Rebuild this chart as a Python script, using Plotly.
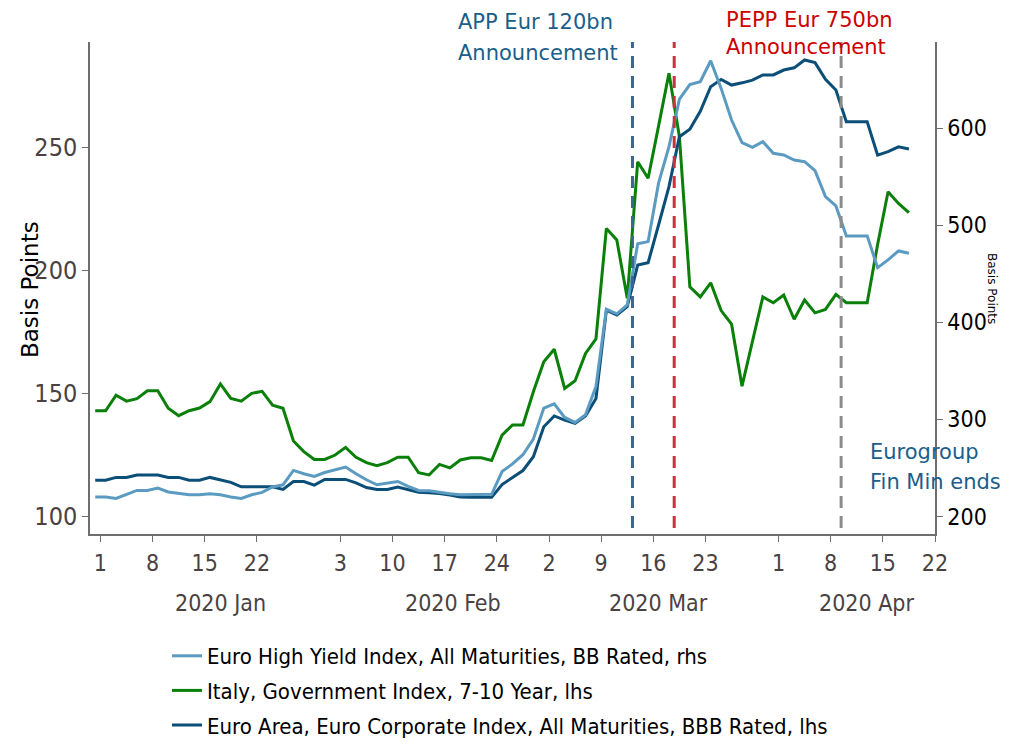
import plotly.graph_objects as go
import pandas as pd

# Business days Dec 31 2019 .. Apr 17 2020 (plotted at midday)
dates = pd.bdate_range("2019-12-31", "2020-04-17")
x_dates = [d.strftime("%Y-%m-%d") + " 12:00" for d in dates]

italy = [142.8, 142.8, 149.1, 146.7, 147.7, 150.9, 150.9, 143.8, 140.8, 142.8,
         143.9, 146.5, 153.7, 147.8, 146.7, 149.9, 150.7, 145.1, 143.8, 130.5,
         126.2, 123.0, 123.0, 124.8, 127.9, 123.9, 121.7, 120.5, 121.7, 123.9,
         123.9, 117.6, 116.7, 121.0, 119.6, 122.8, 123.7, 123.7, 122.6, 132.9,
         137.0, 137.0, 150.5, 162.7, 167.8, 151.9, 155.0, 166.1, 172.0, 216.9,
         212.2, 188.5, 244.0, 237.3, 258.5, 280.0, 254.2, 193.2, 189.1, 194.8,
         183.5, 178.0, 152.8, 170.9, 189.1, 186.7, 189.8, 180.0, 187.8, 182.6,
         184.0, 190.1, 186.7, 186.7, 186.7, 210.4, 231.8, 227.1, 223.3]

bbb = [114.6, 114.6, 115.7, 115.7, 116.7, 116.7, 116.7, 115.7, 115.7, 114.6,
       114.6, 115.7, 114.6, 113.7, 111.9, 111.9, 111.9, 111.9, 110.8, 114.0,
       114.0, 112.6, 114.9, 114.9, 114.9, 113.5, 111.6, 110.8, 110.8, 111.8,
       110.6, 109.7, 109.5, 109.2, 108.5, 107.7, 107.6, 107.6, 107.6, 112.8,
       115.6, 118.5, 124.1, 136.3, 140.7, 139.0, 137.7, 140.7, 147.8, 183.7,
       181.7, 185.1, 202.0, 203.0, 218.3, 233.9, 254.2, 257.2, 264.5, 274.5,
       277.5, 275.2, 276.1, 277.2, 279.3, 279.3, 281.3, 282.2, 285.4, 284.3,
       277.5, 273.2, 260.3, 260.3, 260.3, 246.7, 248.1, 250.1, 249.2]

hy_bb = [220.0, 220.0, 218.6, 223.0, 226.8, 226.8, 229.2, 225.2, 223.4, 222.3,
         222.3, 223.4, 222.3, 220.0, 218.6, 222.3, 224.8, 230.3, 232.6, 247.4,
         244.0, 241.2, 245.3, 248.1, 250.9, 244.0, 237.8, 232.6, 234.4, 236.0,
         230.9, 226.8, 226.5, 224.8, 223.4, 222.3, 222.3, 222.3, 222.8, 246.3,
         254.1, 263.6, 279.7, 311.6, 316.1, 302.0, 296.9, 304.7, 333.9, 413.6,
         408.8, 418.0, 480.9, 483.2, 543.4, 581.1, 630.0, 645.0, 647.9, 669.6,
         641.1, 608.5, 585.2, 580.4, 586.2, 574.2, 572.5, 567.3, 565.6, 556.4,
         529.6, 520.0, 489.1, 489.1, 489.1, 456.4, 464.4, 473.6, 471.3]

tick_dates = ["2020-01-01", "2020-01-08", "2020-01-15", "2020-01-22",
              "2020-02-03", "2020-02-10", "2020-02-17", "2020-02-24",
              "2020-03-02", "2020-03-09", "2020-03-16", "2020-03-23",
              "2020-04-01", "2020-04-08", "2020-04-15", "2020-04-22"]
tick_text = ["1", "8", "15", "22", "3", "10", "17", "24",
             "2", "9", "16", "23", "1", "8", "15", "22"]

month_labels = ["2020 Jan", "2020 Feb", "2020 Mar", "2020 Apr"]
month_pos = ["2020-01-16 12:00", "2020-02-17 18:00", "2020-03-16 12:00", "2020-04-13 12:00"]

event_dates = ["2020-03-12", "2020-03-18", "2020-04-09"]
event_colors = ["#3d6593", "#c8323c", "#8c8c8c"]

C_LIGHT = "#5b9bc1"
C_GREEN = "#0a800a"
C_DARK = "#0b4e78"
C_TEXT_BLUE = "#1b5e8a"
C_TEXT_RED = "#cc0000"

NARROW = "DejaVu Sans Condensed, DejaVu Sans, sans-serif"
SANS = "DejaVu Sans, Verdana, sans-serif"

# page has an 8px body margin: work in page pixels, convert to figure space
OFF = 8
W, H = 1000, 732
PL, PT, PR, PB = 90, 42, 935, 534          # plot box in page pixels
L, T = PL - OFF, PT - OFF
R, B = W - (PR - OFF), H - (PB - OFF)
pw, ph = PR - PL, PB - PT


def px(xp):
    return (xp - PL) / pw


def py(yp):
    return (PB - yp) / ph


fig = go.Figure()
fig.add_trace(go.Scatter(x=x_dates, y=hy_bb, mode="lines", yaxis="y2", legendgroup="a",
                         name="Euro High Yield Index, All Maturities, BB Rated, rhs",
                         line=dict(color=C_LIGHT, width=3)))
fig.add_trace(go.Scatter(x=x_dates, y=italy, mode="lines", legendgroup="b",
                         name="Italy, Government Index, 7-10 Year, lhs",
                         line=dict(color=C_GREEN, width=3)))
fig.add_trace(go.Scatter(x=x_dates, y=bbb, mode="lines", legendgroup="c",
                         name="Euro Area, Euro Corporate Index, All Maturities, BBB Rated, lhs",
                         line=dict(color=C_DARK, width=3)))

for d, c in zip(event_dates, event_colors):
    fig.add_shape(type="line", xref="x", yref="paper", x0=d, x1=d, y0=0.012, y1=1.0,
                  line=dict(color=c, width=3, dash="12px,8px"))

ann = []
for lbl, pos in zip(month_labels, month_pos):
    ann.append(dict(x=pos, y=py(603), xref="x", yref="paper", text=lbl, showarrow=False,
                    font=dict(family=NARROW, size=23, color="#4a4242"),
                    xanchor="center", yanchor="middle"))

texts = [
    ("APP Eur 120bn", 456, 22, C_TEXT_BLUE),
    ("Announcement", 456, 53, C_TEXT_BLUE),
    ("PEPP Eur 750bn", 724, 20, C_TEXT_RED),
    ("Announcement", 724, 47, C_TEXT_RED),
    ("Eurogroup", 868, 452, C_TEXT_BLUE),
    ("Fin Min ends", 868, 482, C_TEXT_BLUE),
]
for t, xp, yp, c in texts:
    ann.append(dict(x=px(xp), y=py(yp), xref="paper", yref="paper",
                    text=t, showarrow=False, xanchor="left", yanchor="middle",
                    font=dict(family=SANS, size=21, color=c)))

ann.append(dict(x=px(30), y=py(290), xref="paper", yref="paper",
                text="Basis Points", textangle=-90, showarrow=False,
                font=dict(family=SANS, size=23, color="#000000"),
                xanchor="center", yanchor="middle"))
ann.append(dict(x=px(992), y=py(288), xref="paper", yref="paper",
                text="Basis Points", textangle=90, showarrow=False,
                font=dict(family=SANS, size=12, color="#000000"),
                xanchor="center", yanchor="middle"))

fig.update_layout(
    width=W, height=H,
    margin=dict(l=L, r=R, t=T, b=B, autoexpand=False),
    paper_bgcolor="white", plot_bgcolor="white",
    showlegend=True,
    legend=dict(x=px(167), y=py(635), xanchor="left", yanchor="top",
                font=dict(family=NARROW, size=22, color="#000000"),
                itemwidth=30, tracegroupgap=3, bgcolor="rgba(0,0,0,0)",
                borderwidth=0),
    annotations=ann,
    xaxis=dict(type="date", range=["2019-12-31", "2020-04-22"],
               rangebreaks=[dict(bounds=["sat", "mon"])],
               tickmode="array", tickvals=tick_dates, ticktext=tick_text,
               ticks="outside", ticklen=6, tickcolor="#6e6e6e", tickwidth=1,
               showline=True, linecolor="#6e6e6e", linewidth=1.5,
               showgrid=False, zeroline=False, ticklabelstandoff=2,
               tickfont=dict(family=NARROW, size=23, color="#4a4242")),
    yaxis=dict(range=[92.7, 292.7], tickvals=[100, 150, 200, 250],
               ticks="outside", ticklen=6, tickcolor="#6e6e6e",
               showline=True, linecolor="#6e6e6e", linewidth=1.5,
               showgrid=False, zeroline=False,
               tickfont=dict(family=NARROW, size=25, color="#4a4242")),
    yaxis2=dict(range=[181.9, 688.9], tickvals=[200, 300, 400, 500, 600], overlaying="y",
                side="right", ticks="outside", ticklen=6, tickcolor="#6e6e6e",
                showline=True, linecolor="#6e6e6e", linewidth=1.5,
                showgrid=False, zeroline=False,
                tickfont=dict(family=NARROW, size=23, color="#000000")),
)

fig.write_html("out.html")
